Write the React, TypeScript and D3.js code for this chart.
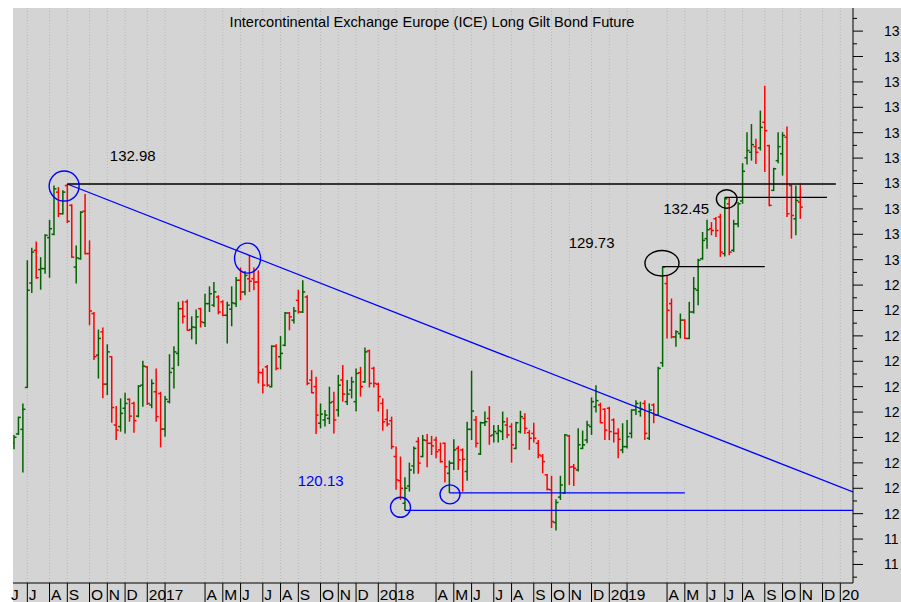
import React from 'react';
import * as d3 from 'd3';

// weekly bars, first one is the week ending Fri 10 Jun 2016
const firstWeek = new Date(2016, 5, 10);

const opens = [
  122.77, 123.14, 123.32, 124.97, 129.08, 130.37, 129.61, 129.65, 130.87, 131.0,
  132.66, 131.81, 132.92, 132.14, 129.71, 130.04, 131.91, 130.24, 127.88, 126.24,
  127.16, 125.1, 126.18, 123.49, 123.43, 124.15, 124.5, 124.34, 123.84, 125.06,
  125.78, 124.28, 124.8, 124.73, 123.33, 124.41, 125.72, 126.31, 128.07, 128.34,
  127.25, 127.33, 128.07, 127.52, 128.27, 128.21, 128.53, 128.34, 127.81, 128.05,
  128.27, 129.19, 128.73, 129.25, 129.25, 129.12, 125.55, 125.78, 125.0, 126.59,
  126.18, 126.63, 127.9, 127.62, 128.4, 127.94, 128.53, 125.26, 125.0, 123.56,
  123.69, 123.75, 124.41, 124.08, 125.26, 124.41, 124.87, 124.41, 125.55, 125.19,
  126.41, 125.72, 125.1, 124.34, 123.71, 123.66, 122.25, 121.3, 120.41, 121.09,
  121.88, 122.84, 122.25, 122.88, 122.77, 122.9, 122.51, 122.77, 121.59, 121.99,
  122.57, 122.51, 121.66, 123.32, 123.69, 122.35, 123.58, 123.75, 123.1, 123.16,
  123.23, 123.49, 123.43, 122.57, 123.23, 123.75, 123.19, 123.16, 122.77, 122.27,
  121.53, 120.94, 119.65, 120.65, 120.81, 123.06, 121.85, 121.72, 122.57, 122.9,
  123.43, 124.21, 124.28, 124.11, 124.15, 123.69, 123.16, 122.51, 122.64, 123.16,
  124.08, 124.02, 124.34, 122.97, 124.28, 123.88, 125.94, 129.06, 128.27, 126.96,
  127.09, 127.62, 126.9, 127.94, 128.8, 130.04, 130.83, 131.22, 131.61, 131.68,
  130.24, 132.2, 130.37, 131.41, 132.31, 134.01, 134.23, 134.45, 134.4, 135.41,
  134.49, 132.73, 133.9, 134.17, 134.82, 132.92, 131.61, 132.27,
];

const highs = [
  123.1, 123.82, 124.34, 129.98, 130.47, 130.72, 130.1, 131.0, 131.57, 132.92,
  132.86, 132.73, 132.98, 132.18, 130.56, 131.91, 132.59, 130.76, 127.94, 127.25,
  127.33, 126.67, 126.2, 124.24, 124.54, 124.76, 124.54, 124.41, 125.06, 126.02,
  125.81, 125.29, 125.72, 124.8, 124.63, 126.28, 126.59, 128.34, 128.38, 128.43,
  127.77, 128.04, 128.11, 128.66, 128.95, 129.12, 128.6, 128.4, 128.34, 128.95,
  129.32, 129.69, 129.55, 130.17, 129.69, 129.58, 125.72, 125.85, 126.63, 126.67,
  126.99, 127.94, 127.94, 128.14, 128.82, 129.19, 128.6, 125.65, 125.39, 124.34,
  124.08, 125.0, 124.8, 125.46, 125.85, 125.26, 125.39, 125.72, 125.78, 126.54,
  126.46, 125.78, 125.16, 124.54, 124.11, 123.82, 122.64, 122.25, 121.43, 122.01,
  122.64, 123.01, 123.1, 123.14, 123.06, 123.03, 122.8, 122.8, 122.09, 122.93,
  122.67, 122.57, 123.62, 125.63, 123.85, 123.62, 124.02, 124.24, 123.49, 123.49,
  124.02, 123.79, 123.56, 123.62, 124.05, 123.95, 123.29, 123.58, 122.9, 122.35,
  121.56, 121.49, 120.57, 121.49, 123.14, 123.1, 121.96, 123.36, 123.27, 123.66,
  124.58, 125.06, 124.37, 124.15, 124.21, 123.75, 123.36, 123.56, 123.69, 124.11,
  124.47, 124.41, 124.47, 124.34, 124.34, 125.78, 129.73, 129.39, 128.47, 127.22,
  127.88, 127.65, 128.34, 129.32, 130.04, 131.09, 131.57, 131.48, 131.68, 131.81,
  132.45, 132.43, 131.57, 132.27, 133.8, 135.02, 135.34, 134.76, 135.87, 136.85,
  134.53, 133.62, 135.02, 135.02, 135.24, 132.96, 132.92, 132.96,
];

const lows = [
  122.54, 123.1, 121.62, 124.95, 128.69, 129.25, 128.82, 129.45, 129.29, 130.96,
  131.68, 131.78, 131.44, 130.08, 129.06, 130.0, 130.2, 127.42, 126.05, 125.32,
  124.54, 124.67, 123.58, 122.9, 123.23, 123.16, 123.62, 123.19, 123.79, 124.21,
  124.28, 124.15, 123.62, 122.61, 123.03, 124.34, 124.93, 125.81, 127.49, 127.2,
  126.86, 126.67, 127.33, 127.35, 127.94, 128.14, 127.85, 127.77, 126.7, 127.38,
  128.14, 128.4, 128.6, 128.73, 128.8, 125.13, 124.73, 125.0, 124.97, 125.65,
  125.68, 126.59, 127.22, 127.49, 127.88, 127.9, 125.06, 124.74, 123.14, 123.36,
  123.43, 123.53, 123.16, 123.82, 124.41, 124.28, 124.54, 124.02, 124.61, 125.15,
  124.97, 124.97, 124.02, 123.27, 123.43, 122.54, 120.94, 120.54, 120.13, 120.87,
  121.57, 121.57, 122.22, 121.83, 122.31, 122.18, 122.01, 121.23, 120.82, 121.72,
  121.72, 120.87, 121.3, 122.9, 122.61, 122.31, 123.45, 122.71, 122.8, 122.8,
  122.9, 122.97, 122.01, 122.54, 123.16, 123.14, 122.51, 122.8, 122.18, 121.59,
  120.91, 119.43, 119.34, 120.54, 120.78, 121.13, 121.09, 121.66, 122.54, 122.77,
  123.1, 123.98, 123.56, 122.9, 122.9, 122.8, 122.18, 122.38, 122.57, 122.97,
  123.88, 123.82, 122.9, 122.9, 123.56, 123.85, 125.78, 126.9, 126.9, 126.57,
  126.9, 126.88, 126.87, 127.88, 128.21, 130.0, 130.43, 130.96, 130.89, 130.11,
  130.13, 130.17, 130.3, 131.28, 132.2, 133.75, 133.9, 133.77, 134.3, 133.45,
  132.1, 132.7, 133.8, 133.31, 131.68, 130.83, 130.96, 131.61,
];

const closes = [
  123.01, 123.79, 124.11, 128.8, 130.3, 129.29, 129.65, 130.96, 131.22, 132.79,
  131.81, 132.66, 131.51, 130.1, 130.07, 131.87, 130.24, 127.98, 126.18, 126.9,
  125.1, 126.37, 124.18, 123.29, 123.95, 124.34, 123.84, 123.66, 125.02, 125.81,
  124.34, 125.13, 123.82, 123.33, 124.5, 125.56, 126.37, 128.07, 127.77, 127.22,
  127.35, 127.75, 127.55, 128.27, 128.66, 128.73, 127.94, 127.81, 128.21, 128.3,
  129.19, 128.73, 129.38, 129.15, 129.12, 125.56, 125.06, 125.06, 126.59, 125.72,
  126.31, 127.9, 127.75, 127.98, 127.94, 128.73, 125.13, 124.76, 123.88, 123.92,
  123.88, 124.37, 123.69, 125.06, 124.71, 124.71, 125.19, 125.52, 125.0, 126.37,
  125.13, 125.13, 124.61, 123.62, 123.53, 122.64, 121.33, 121.0, 121.0, 121.72,
  122.57, 121.99, 122.9, 122.77, 122.67, 122.44, 122.05, 121.85, 121.99, 122.51,
  122.12, 122.14, 123.32, 124.04, 122.77, 123.58, 123.62, 123.06, 123.23, 123.27,
  123.62, 123.1, 122.71, 123.58, 123.82, 123.36, 122.97, 122.97, 122.31, 122.05,
  120.96, 119.69, 120.44, 121.13, 123.1, 121.83, 121.79, 122.71, 122.71, 123.49,
  124.41, 124.45, 123.58, 123.29, 123.23, 123.16, 122.93, 122.64, 123.03, 124.08,
  124.34, 124.11, 123.16, 124.08, 123.88, 125.72, 129.71, 128.01, 126.96, 127.16,
  127.62, 126.9, 127.94, 128.86, 129.98, 130.76, 131.18, 131.15, 131.15, 130.3,
  132.4, 130.3, 131.41, 132.2, 133.48, 134.3, 134.53, 134.23, 135.21, 135.08,
  132.14, 133.58, 134.45, 134.89, 131.81, 131.74, 132.33, 132.07,
];

const monthLetters = ['J', 'F', 'M', 'A', 'M', 'J', 'J', 'A', 'S', 'O', 'N', 'D'];
const priceTicks = [
  118, 119, 120, 121, 122, 123, 124, 125, 126, 127, 128,
  129, 130, 131, 132, 133, 134, 135, 136, 137, 138, 139,
];
// the axis only has room for the first two digits of each price
const priceLabels = [
  '11', '11', '12', '12', '12', '12', '12', '12', '12', '12', '12',
  '12', '13', '13', '13', '13', '13', '13', '13', '13', '13', '13',
];

// support / resistance levels drawn on the chart
const levels = [
  { from: new Date(2016, 8, 2), to: new Date(2019, 11, 27), value: 132.98, color: '#000' },
  { from: new Date(2019, 6, 5), to: new Date(2019, 11, 13), value: 132.45, color: '#000' },
  { from: new Date(2019, 2, 29), to: new Date(2019, 8, 6), value: 129.73, color: '#000' },
  { from: new Date(2018, 3, 27), to: new Date(2019, 4, 3), value: 120.82, color: '#0000ff' },
  { from: new Date(2018, 1, 16), to: new Date(2020, 0, 23), value: 120.13, color: '#0000ff' },
];

// falling trend line through the two highs
const trendDates = [new Date(2016, 8, 2), new Date(2017, 5, 16)];
const trendValues = [132.98, 130.17];

const rings = [
  { date: new Date(2016, 7, 28), value: 132.9, color: '#0000ff' },
  { date: new Date(2017, 5, 13), value: 130.06, color: '#0000ff' },
  { date: new Date(2018, 1, 9), value: 120.25, color: '#0000ff' },
  { date: new Date(2018, 3, 28), value: 120.76, color: '#0000ff' },
  { date: new Date(2019, 2, 28), value: 129.86, color: '#000' },
  { date: new Date(2019, 6, 8), value: 132.39, color: '#000' },
];
const ringSize = [[15, 15], [13, 15], [10, 10], [10, 9.5], [17, 12.7], [10.3, 9.2]];

const notes = [
  { text: '132.98', date: new Date(2016, 10, 8), value: 133.89, color: '#000' },
  { text: '129.73', date: new Date(2018, 10, 1), value: 130.46, color: '#000' },
  { text: '132.45', date: new Date(2019, 2, 30), value: 131.8, color: '#000' },
  { text: '120.13', date: new Date(2017, 7, 31), value: 121.09, color: '#0000ff' },
];

const title = 'Intercontinental Exchange Europe (ICE) Long Gilt Bond Future';

const W = 901;
const H = 602;
const left = 13;
const top = 8;
const right = 853;
const bottom = 583;
const font = '"Liberation Sans", Arial, sans-serif';

export default function App() {
  const x = d3.scaleTime()
    .domain([new Date(2016, 5, 8, 10), new Date(2020, 0, 23)])
    .range([left, right]);
  const y = d3.scaleLinear().domain([117.27, 139.91]).range([bottom, top]);

  const bars = opens.map((o, i) => ({
    date: d3.timeDay.offset(firstWeek, i * 7),
    o,
    h: highs[i],
    l: lows[i],
    c: closes[i],
  }));

  // month separators sit on the first weekly bar of each month
  const months = d3.timeMonth.range(new Date(2016, 5, 1), new Date(2020, 1, 1)).map((m) => {
    const k = m.getMonth();
    let label = k === 0 ? String(m.getFullYear()) : k === 1 ? '' : k === 2 ? null : monthLetters[k];
    if (label && m.getFullYear() === 2020) label = '20';
    return { x: x(d3.timeFriday.ceil(m)), label };
  }).filter((m) => m.label !== null);

  const halfTicks = d3.range(117.5, 140, 0.5).filter((v) => v % 1 !== 0);

  const [ax, ay] = [x(trendDates[0]), y(trendValues[0])];
  const slope = (y(trendValues[1]) - ay) / (x(trendDates[1]) - ax);

  return (
    <svg width={W} height={H} style={{ position: 'absolute', left: 0, top: 0, background: '#fff' }}
      fontFamily={font}>
      <defs>
        <clipPath id="plot"><rect x={left} y={top} width={right - left} height={bottom - top} /></clipPath>
      </defs>
      <rect x={left} y={top} width={W - left} height={H - top} fill="#d4d4d4" />

      {months.filter((m) => m.x > left).map((m, i) => (
        <line key={'g' + i} x1={m.x} x2={m.x} y1={top} y2={bottom}
          stroke="#b8b8b8" strokeDasharray="1,2" />
      ))}

      <text x={432} y={27} fontSize={14.6} textAnchor="middle" fill="#000">{title}</text>

      <g clipPath="url(#plot)">
        {bars.map((b, i) => {
          const cx = x(b.date);
          const col = b.c >= b.o ? '#006400' : '#ff0000';
          return (
            <g key={i} stroke={col} strokeWidth={1.5}>
              <line x1={cx} x2={cx} y1={y(b.h)} y2={y(b.l)} />
              <line x1={cx - 2.5} x2={cx} y1={y(b.o)} y2={y(b.o)} />
              <line x1={cx} x2={cx + 2.5} y1={y(b.c)} y2={y(b.c)} />
            </g>
          );
        })}

        <line x1={ax} y1={ay} x2={right} y2={ay + slope * (right - ax)} stroke="#0000ff" strokeWidth={1.3} />
        {levels.map((lv, i) => (
          <line key={'l' + i} x1={x(lv.from)} x2={x(lv.to)} y1={y(lv.value)} y2={y(lv.value)}
            stroke={lv.color} strokeWidth={1.3} />
        ))}
        {rings.map((r, i) => (
          <ellipse key={'r' + i} cx={x(r.date)} cy={y(r.value)} rx={ringSize[i][0]} ry={ringSize[i][1]}
            fill="none" stroke={r.color} strokeWidth={1.4} />
        ))}
        {notes.map((n, i) => (
          <text key={'n' + i} x={x(n.date)} y={y(n.value)} fontSize={15} fill={n.color}>{n.text}</text>
        ))}
      </g>

      {/* right price axis */}
      <line x1={right} x2={right} y1={top} y2={bottom} stroke="#000" />
      {halfTicks.map((v) => (
        <line key={'m' + v} x1={right} x2={right + 4} y1={y(v)} y2={y(v)} stroke="#000" />
      ))}
      {priceTicks.map((v, i) => (
        <g key={'t' + v}>
          <line x1={right} x2={right + 10} y1={y(v)} y2={y(v)} stroke="#000" />
          <text x={884} y={y(v) + 5} fontSize={14} fill="#000">{priceLabels[i]}</text>
        </g>
      ))}

      {/* bottom month band */}
      <line x1={left} x2={right} y1={bottom} y2={bottom} stroke="#000" />
      {months.map((m, i) => (
        <g key={'s' + i}>
          {m.x > left && m.x < right && <line x1={m.x} x2={m.x} y1={bottom} y2={H} stroke="#000" />}
          <text x={m.x + 1.5} y={600} fontSize={15.5} fill="#000">{m.label}</text>
        </g>
      ))}
    </svg>
  );
}
